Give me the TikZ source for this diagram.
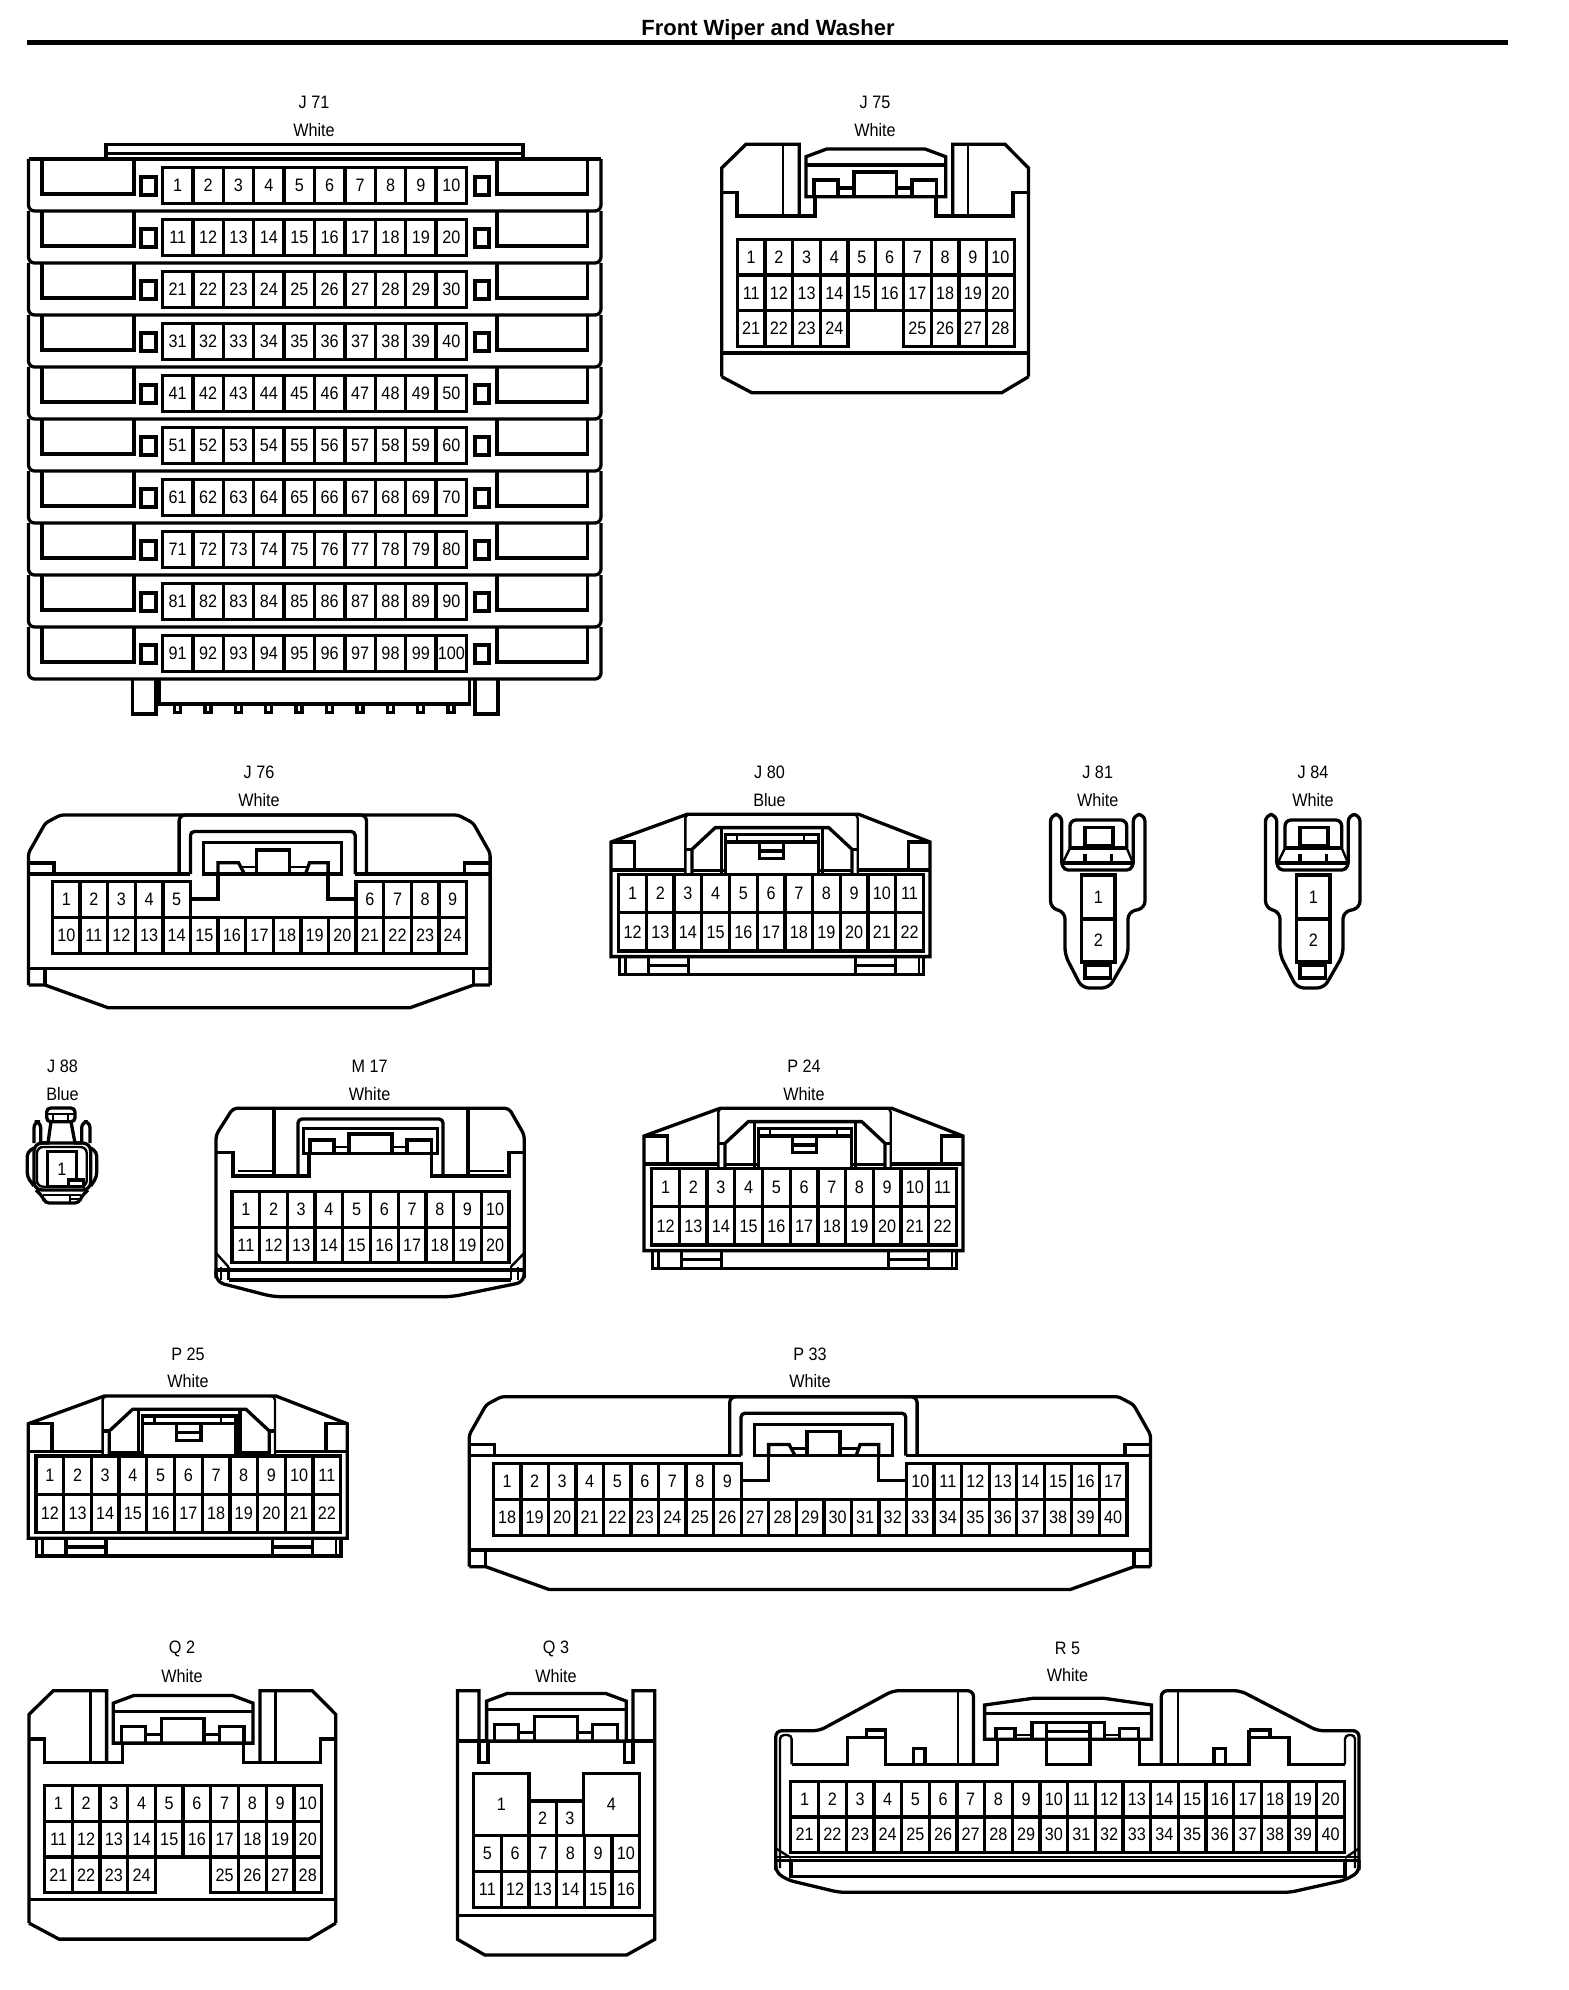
\documentclass[tikz,border=0pt]{standalone}
\usepackage{fontspec}
\setmainfont{Liberation Sans}
\newfontfamily\pinfont[FakeStretch=0.9]{Liberation Sans}
\newcommand\pinrow[7]{\foreach \pinidx in {1,...,#7}{%
  \pgfmathtruncatemacro\pinnum{#6+\pinidx-1}%
  \pgfmathsetmacro\pincx{#2+(\pinidx-.5)*#3}%
  \pgfmathsetmacro\pincy{#4+#5/2}%
  \node[pincell,minimum width=#3*0.5pt,minimum height=#5*0.5pt] (#1-\pinnum) at (\pincx,\pincy) {\pinnum};}}
\newcommand\singlepin[6]{\node[pincell,minimum width=#4*0.5pt,minimum height=#5*0.5pt] (#6) at (#2+#4/2,#3+#5/2) {#1};}
\newcommand\conlabel[4]{%
  \node[lab] (#1-name) at (#2,#3-27.5) {#1};
  \node[lab] (#1-colour) at (#2,#3) {#4};}
\newcommand\latchA{%
  \draw[ln] (84.3,52.4)--(84.3,12.4)--(105,4.7)--(203.3,4.7)--(224,12.4)--(224,52.4)--cycle;
  \draw[ln] (84.3,20.7)--(224,20.7);
  \draw[ln] (92.3,52.4)--(92.3,35.7)--(116.3,35.7)--(116.3,52.4);
  \draw[ln] (132.3,52.4)--(132.3,27.7)--(175,27.7)--(175,52.4);
  \draw[ln] (190.3,52.4)--(190.3,35.7)--(215,35.7)--(215,52.4);
  \draw[ln] (116.3,43.7)--(132.3,43.7) (175,43.7)--(190.3,43.7);}
% 28-pin housing (J75, Q2)
\newcommand\conA[3]{\begin{scope}[shift={(#2,#3)}]
  \draw[ln] (0,48.4)--(15.3,48.4)--(15.3,71.7)--(93.3,71.7)--(93.3,52.4);
  \draw[ln] (0,232.4)--(0,23.7)--(24.3,0)--(77.6,0)--(77.6,71.7);
  \draw[ln,thinner] (61.3,0)--(61.3,71.7);
  \draw[ln] (306.8,48.4)--(291.3,48.4)--(291.3,71.7)--(214.3,71.7)--(214.3,52.4);
  \draw[ln] (231,71.7)--(231,0)--(283.3,0)--(306.8,23.7)--(306.8,232.4);
  \draw[ln,thinner] (246.3,0)--(246.3,71.7);
  \latchA
  \draw[ln] (0,208.7)--(306.8,208.7);
  \draw[ln] (0,232.4)--(30,248.4)--(280,248.4)--(306.8,232.4);
  \pinrow{#1}{15.6}{27.7}{95}{35.7}{1}{10}
  \pinrow{#1}{15.6}{27.7}{130.7}{35.7}{11}{10}
  \pinrow{#1}{15.6}{27.7}{166.4}{35.7}{21}{4}
  \pinrow{#1}{181.8}{27.7}{166.4}{35.7}{25}{4}
\end{scope}}
% 22-pin housing (J80, P24, P25)
\newcommand\conB[3]{\begin{scope}[shift={(#2,#3)}]
  \draw[ln] (0,27.7)--(76,0)--(247.7,0)--(319,27.7)--(319,142.3)--(0,142.3)--cycle;
  \draw[ln] (0,27.7)--(23.7,27.7)--(23.7,55.7);
  \draw[ln] (319,27.7)--(297.7,27.7)--(297.7,55.7);
  \draw[ln] (0,55.7)--(74.3,55.7) (246.7,55.7)--(319,55.7);
  \draw[ln] (81,56.5)--(114,56.5) (207.7,56.5)--(241,56.5);
  \draw[ln,thinner,rounded corners=2pt] (74.3,60)--(74.3,0)--(80,0);
  \draw[ln,thinner,rounded corners=2pt] (246.7,60)--(246.7,0)--(241,0);
  \draw[ln] (81,60)--(81,35)--(104.3,13.3)--(217.7,13.3)--(241,35)--(241,60);
  \draw[ln] (74.3,35)--(81,35) (241,35)--(246.7,35);
  \draw[ln] (110.3,13.3)--(110.3,60) (211.7,13.3)--(211.7,60);
  \draw[ln] (114.3,60)--(114.3,20)--(207.7,20)--(207.7,60);
  \draw[ln] (114.3,27.7)--(207.7,27.7);
  \draw[ln,thinner] (126,20)--(126,27.7) (192.7,20)--(192.7,27.7);
  \draw[ln] (148.3,27.7)--(148.3,44.3)--(172.7,44.3)--(172.7,27.7);
  \draw[ln] (148.3,36.7)--(172.7,36.7);
  \pinrow{#1}{7.7}{27.7}{60}{38.4}{1}{11}
  \pinrow{#1}{7.7}{27.7}{98.4}{38.4}{12}{11}
  \draw[ln] (8.3,142.3)--(8.3,160)--(312.7,160)--(312.7,142.3);
  \draw[ln,thinner] (14.3,142.3)--(14.3,160) (307.7,142.3)--(307.7,160);
  \draw[ln] (37.7,142.3)--(37.7,160) (77.7,142.3)--(77.7,160) (244.3,142.3)--(244.3,160) (284.3,142.3)--(284.3,160);
  \draw[ln] (37.7,151)--(77.7,151) (244.3,151)--(284.3,151);
\end{scope}}
% wide housing (J76, P33): name, x, y, width, columns, right-group start column, first-row counts
\newcommand\conW[8]{\begin{scope}[shift={(#2,#3)}]
  \pgfmathsetmacro\wcx{#4/2+13.5}
  \pgfmathsetmacro\wcr{#4-32}
  \pgfmathsetmacro\wsr{#4-17}
  \pgfmathsetmacro\wbr{#4-80}
  \pgfmathsetmacro\wbx{#4-25.5}
  \draw[ln,rounded corners=1.5pt] (0,170)--(0,38)--(17,8)--(32,0)--(\wcr,0)--(\wsr,8)--(#4,38)--(#4,170);
  \draw[ln] (0,59)--({\wcx-82.4},59) ({\wcx+82.4},59)--(#4,59);
  \draw[ln] (0,48)--(25.5,48)--(25.5,59) (\wbx,59)--(\wbx,48)--(#4,48);
  \draw[ln,rounded corners=3pt] ({\wcx-93.7},59)--({\wcx-93.7},0)--({\wcx+93.7},0)--({\wcx+93.7},59);
  \draw[ln,rounded corners=2pt] ({\wcx-82.4},59)--({\wcx-82.4},16.5)--({\wcx+82.4},16.5)--({\wcx+82.4},59);
  \draw[ln] ({\wcx-69},59)--({\wcx-69},27.7)--({\wcx+69},27.7)--({\wcx+69},59)--cycle;
  \draw[ln] ({\wcx-16.3},59)--({\wcx-16.3},35)--({\wcx+16.5},35)--({\wcx+16.5},59);
  \draw[ln] ({\wcx-54.8},59)--({\wcx-54.8},47.7)--({\wcx-34.3},47.7)--({\wcx-28.3},59);
  \draw[ln] ({\wcx+55.3},59)--({\wcx+55.3},47.7)--({\wcx+36.7},47.7)--({\wcx+32.7},59);
  \draw[ln,thinner] ({\wcx-31},51.7)--({\wcx-16.3},51.7) ({\wcx+16.5},51.7)--({\wcx+34},51.7);
  \draw[ln] ({\wcx-54.8},59)--({\wcx-54.8},84)--({\wcx-82.4},84);
  \draw[ln] ({\wcx+55.3},59)--({\wcx+55.3},84)--({\wcx+82.4},84);
  \pgfmathsetmacro\wpp{(#4-47.6)/#5}
  \pgfmathtruncatemacro\wfirst{#7+1}
  \pgfmathsetmacro\wrx{24+#6*\wpp}
  \pinrow{#1}{24}{\wpp}{66.7}{36}{1}{#7}
  \pinrow{#1}{\wrx}{\wpp}{66.7}{36}{\wfirst}{#8}
  \pgfmathtruncatemacro\wlow{#7+#8+1}
  \pinrow{#1}{24}{\wpp}{102.7}{36}{\wlow}{#5}
  \draw[ln] (0,153.3)--(#4,153.3);
  \pgfmathsetmacro\wfr{#4-16.5}
  \draw[ln] (0,170)--(16.5,170)--(79.5,192.7)--(\wbr,192.7)--(\wfr,170)--(#4,170);
  \draw[ln] (16.5,153.3)--(16.5,170) (\wfr,153.3)--(\wfr,170);
\end{scope}}
% 2-pin plug (J81, J84)
\newcommand\conT[2]{\begin{scope}[shift={(#2,0)}]
  \draw[ln,rounded corners=3.5pt] (1061.7,863)--(1061.7,814.5)--(1050.5,814.5)--(1050.5,908)--(1065,912)--(1065,955)--(1082,988)--(1109,988)--(1128,955)--(1128,912)--(1145,908)--(1145,814.5)--(1133.3,814.5)--(1133.3,863);
  \draw[ln,rounded corners=3pt] (1070,848)--(1070,820)--(1126.7,820)--(1126.7,848);
  \draw[ln] (1070,848)--(1126.7,848);
  \draw[ln,thinner] (1070,848)--(1062.7,863) (1126.7,848)--(1133,863);
  \draw[ln] (1085,827.7) rectangle (1113,845.7);
  \draw[ln] (1085,854)--(1085,863) (1111.7,854)--(1111.7,863);
  \draw[ln] (1061.7,863)--(1133.3,863);
  \draw[ln,rounded corners=2pt] (1061.7,863)--(1064,870)--(1131,870)--(1133.3,863);
  \singlepin{1}{1081.7}{875}{33.3}{44}{#1-1}
  \singlepin{2}{1081.7}{919}{33.3}{43}{#1-2}
  \draw[ln] (1085,965.7) rectangle (1110.7,978);
\end{scope}}
\begin{document}
\begin{tikzpicture}[x=0.5pt,y=-0.5pt,
  ln/.style={line width=1.65pt,line join=miter},
  thinner/.style={line width=1.2pt},
  pincell/.style={draw,line width=1.65pt,inner sep=0pt,outer sep=0pt,font=\pinfont\fontsize{9pt}{10pt}\selectfont},
  lab/.style={inner sep=0pt,font=\pinfont\fontsize{9pt}{10pt}\selectfont},
  ttl/.style={inner sep=0pt,font=\bfseries\fontsize{11pt}{12pt}\selectfont}]
\useasboundingbox (0,0) rectangle (1568,1990);
\fill[white] (0,0) rectangle (1568,1990);
\node[ttl] (title) at (768,29.5) {Front Wiper and Washer};
\coordinate (ruleL) at (27,42.3);
\coordinate (ruleR) at (1508,42.3);
\draw[line width=2.6pt] (ruleL)--(ruleR);
% captions
\conlabel{J 71}{314}{130}{White}
\conlabel{J 75}{875}{130}{White}
\conlabel{J 76}{259}{800}{White}
\conlabel{J 80}{769.5}{800}{Blue}
\conlabel{J 81}{1097.7}{800}{White}
\conlabel{J 84}{1313}{800}{White}
\conlabel{J 88}{62.5}{1094}{Blue}
\conlabel{M 17}{369.6}{1094}{White}
\conlabel{P 24}{804}{1094}{White}
\conlabel{P 25}{188}{1381.5}{White}
\conlabel{P 33}{810}{1381.5}{White}
\conlabel{Q 2}{182}{1676}{White}
\conlabel{Q 3}{556}{1676}{White}
\conlabel{R 5}{1067.5}{1675.5}{White}
% J71
\draw[ln] (106,159)--(106,144.5)--(523,144.5)--(523,159);
\draw[ln,thinner] (106,153.5)--(523,153.5);
\draw[ln] (28.5,159)--(601,159);
\foreach \rr in {0,...,9}{
  \begin{scope}[shift={(0,52*\rr)}]
    \draw[ln,rounded corners=3pt] (28.5,159)--(28.5,211)--(601,211)--(601,159);
    \draw[ln] (42,159)--(42,194)--(134,194)--(134,159);
    \draw[ln] (497,159)--(497,194)--(587.5,194)--(587.5,159);
    \draw[ln] (141,177) rectangle (156,195);
    \draw[ln] (475,177) rectangle (489,195);
    \pgfmathtruncatemacro\fst{10*\rr+1}
    \pinrow{J71}{162.5}{30.4}{167.5}{36}{\fst}{10}
  \end{scope}}
\draw[ln] (132.6,679)--(132.6,714)--(156,714)--(156,679);
\draw[ln] (475,679)--(475,714)--(498,714)--(498,679);
\draw[ln] (159,679)--(159,704)--(469.4,704)--(469.4,679);
\foreach \tth in {0,...,9}{
  \pgfmathsetmacro\tthl{177.5+30.4*\tth-3}
  \pgfmathsetmacro\tthr{177.5+30.4*\tth+3}
  \draw[ln] (\tthl,704)--(\tthl,712.5)--(\tthr,712.5)--(\tthr,704);}
% J75, Q2
\conA{J75}{721.7}{144.3}
\conA{Q2}{29}{1690.7}
% J76, P33
\conW{J76}{28.5}{815}{461.6}{15}{11}{5}{4}
\conW{P33}{469.3}{1396.7}{681.2}{23}{15}{9}{8}
% J80, P24, P25
\conB{J80}{611}{814.3}
\conB{P24}{644}{1108.3}
\conB{P25}{28.3}{1396}
% J81, J84
\conT{J81}{0}
\conT{J84}{215}
% J88
\draw[ln,rounded corners=2pt] (46.7,1121.7)--(46.7,1108)--(75,1108)--(75,1121.7)--cycle;
\draw[ln,thinner] (46.7,1114)--(75,1114);
\draw[ln,thinner] (53,1114)--(53,1121.7) (68,1114)--(68,1121.7);
\draw[ln] (51,1121.7)--(48,1143)--(40.7,1143) (71,1121.7)--(75,1143)--(81.7,1143);
\draw[ln,rounded corners=3pt] (40.7,1143)--(40.7,1121.7)--(34,1121.7)--(34,1143);
\draw[ln,rounded corners=3pt] (81.7,1143)--(81.7,1121.7)--(90,1121.7)--(90,1143);
\draw[ln,rounded corners=4pt] (34,1143) rectangle (90.7,1190);
\draw[ln,thinner,rounded corners=3pt] (37,1147) rectangle (86.7,1186.7);
\draw[ln,rounded corners=2pt] (34,1148)--(27.3,1152)--(27.3,1177)--(34,1186);
\draw[ln,rounded corners=2pt] (90.7,1148)--(96.7,1152)--(96.7,1177)--(90.7,1186);
\draw[ln,rounded corners=2pt] (36,1190)--(43,1197)--(45,1203)--(79,1203)--(81,1197)--(88,1190);
\draw[ln,thinner] (43,1195)--(81,1195) (70,1195)--(70,1203) (70,1199)--(80,1199);
\singlepin{1}{47.3}{1151.7}{29.4}{35}{J88-1}
\draw[ln,fill=white] (68.3,1180) rectangle (83.3,1186.7);
% M17
\draw[ln] (216,1152.7)--(233,1152.7)--(233,1176)--(309,1176)--(309,1152.7);
\draw[ln] (431.4,1152.7)--(431.4,1176)--(509,1176)--(509,1152.7)--(524.3,1152.7);
\draw[ln,rounded corners=2pt] (216,1278)--(216,1135)--(233,1108.3)--(509,1108.3)--(524.3,1135)--(524.3,1278);
\draw[ln,thinner] (237.5,1171)--(274,1171) (468,1171)--(503.6,1171);
\draw[ln] (274,1108.3)--(274,1176) (468,1108.3)--(468,1176);
\draw[ln,rounded corners=2pt] (298,1176)--(298,1119)--(443,1119)--(443,1176);
\draw[ln] (303.6,1128.3) rectangle (437.5,1153.3);
\draw[ln] (310,1153.3)--(310,1140)--(334,1140)--(334,1153.3);
\draw[ln] (349,1153.3)--(349,1134)--(392,1134)--(392,1153.3);
\draw[ln] (407,1153.3)--(407,1140)--(431.4,1140)--(431.4,1153.3);
\draw[ln,thinner] (334,1147)--(349,1147) (392,1147)--(407,1147);
\pinrow{M17}{232}{27.7}{1191.7}{35.5}{1}{10}
\pinrow{M17}{232}{27.7}{1227.2}{35.5}{11}{10}
\draw[ln,thinner] (216,1253)--(228.6,1267) (524.3,1253)--(510.7,1267);
\draw[ln] (216,1270)--(524.3,1270);
\draw[ln] (228.6,1280)--(510.7,1280);
\draw[ln,thinner] (228.6,1267)--(228.6,1280) (510.7,1267)--(510.7,1280) (221,1267)--(221,1280) (518,1267)--(518,1280);
\draw[ln,rounded corners=4pt] (216,1270)--(216,1282)--(273,1296.7)--(452,1296.7)--(524.3,1282)--(524.3,1270);
% Q3
\draw[ln] (479,1741)--(479,1690.7)--(457.5,1690.7)--(457.5,1939.3)--(484.8,1955)--(626.6,1955)--(654.8,1939.3)--(654.8,1690.7)--(633,1690.7)--(633,1741);
\draw[ln] (479,1741)--(479,1762.7)--(488,1762.7)--(488,1741);
\draw[ln] (633,1741)--(633,1762.7)--(624.4,1762.7)--(624.4,1741);
\draw[ln] (457.5,1741)--(486.6,1741) (626.6,1741)--(654.8,1741);
\begin{scope}[shift={(402.3,1688.7)}] \latchA \end{scope}
\singlepin{1}{473.5}{1773.3}{55.5}{62.4}{Q3-1}
\singlepin{2}{529}{1801}{27.2}{34.7}{Q3-2}
\singlepin{3}{556.2}{1801}{27.1}{34.7}{Q3-3}
\singlepin{4}{583.3}{1773.3}{56.3}{62.4}{Q3-4}
\pinrow{Q3}{473.5}{27.7}{1835.7}{36}{5}{6}
\pinrow{Q3}{473.5}{27.7}{1871.7}{35.6}{11}{6}
\draw[ln] (457.5,1915.7)--(654.8,1915.7);
% R5
\draw[ln,rounded corners=3pt] (775.8,1870)--(775.8,1730.7)--(819.3,1730.7)--(893,1690.7)--(973.5,1690.7)--(973.5,1764.3);
\draw[ln,rounded corners=3pt] (1161.3,1764.3)--(1161.3,1690.7)--(1240.4,1690.7)--(1317.5,1730.7)--(1359,1730.7)--(1359,1870);
\draw[ln,thinner,rounded corners=2pt] (780,1868)--(780,1735)--(791.6,1735)--(791.6,1764.3);
\draw[ln,thinner,rounded corners=2pt] (1355,1868)--(1355,1735)--(1345,1735)--(1345,1764.3);
\draw[ln,thinner] (957.7,1690.7)--(957.7,1764.3) (1178,1690.7)--(1178,1764.3);
\draw[ln] (791.6,1764.3)--(847.8,1764.3)--(847.8,1737.3)--(885.3,1737.3)--(885.3,1764.3)--(997.2,1764.3)--(997.2,1739.3);
\draw[ln] (1139.6,1739.3)--(1139.6,1764.3)--(1249,1764.3)--(1249,1737.3)--(1289,1737.3)--(1289,1764.3)--(1345,1764.3);
\draw[ln] (866.8,1737.3)--(866.8,1730)--(885.3,1730)--(885.3,1737.3);
\draw[ln] (1249,1730)--(1270,1730)--(1270,1737.3) (1249,1737.3)--(1249,1730);
\draw[ln] (913.4,1764.3)--(913.4,1748.3)--(925,1748.3)--(925,1764.3);
\draw[ln] (1214,1764.3)--(1214,1748.3)--(1225.8,1748.3)--(1225.8,1764.3);
\draw[ln] (984.6,1739.3)--(984.6,1705)--(1032.8,1698.3)--(1104,1698.3)--(1151.5,1705)--(1151.5,1739.3)--cycle;
\draw[ln] (984.6,1713.3)--(1151.5,1713.3);
\draw[ln] (996,1739.3)--(996,1728.3)--(1015,1728.3)--(1015,1739.3);
\draw[ln] (1119.8,1739.3)--(1119.8,1728.3)--(1138.8,1728.3)--(1138.8,1739.3);
\draw[ln] (1032,1739.3)--(1032,1722.3)--(1104.8,1722.3)--(1104.8,1739.3);
\draw[ln] (1046.7,1722.3)--(1046.7,1764.3)--(1090,1764.3)--(1090,1722.3);
\draw[ln] (1046.7,1731.7)--(1090,1731.7);
\draw[ln,thinner] (1015,1735)--(1032,1735) (1104.8,1735)--(1119.8,1735);
\pinrow{R5}{790.8}{27.68}{1781.7}{35.3}{1}{20}
\pinrow{R5}{790.8}{27.68}{1817}{35.3}{21}{20}
\draw[ln,thinner] (775.8,1848.3)--(791,1858) (1359,1848.3)--(1345,1858);
\draw[ln,thinner] (775.8,1856.7)--(1359,1856.7);
\draw[ln] (775.8,1860.5)--(1359,1860.5);
\draw[ln] (791,1860.5)--(791,1876.7)--(1345,1876.7)--(1345,1860.5);
\draw[ln,rounded corners=3pt] (775.8,1860)--(775.8,1872)--(787.7,1880)--(839,1892.3)--(1290,1892.3)--(1345,1880)--(1359,1872)--(1359,1860);
\end{tikzpicture}
\end{document}
